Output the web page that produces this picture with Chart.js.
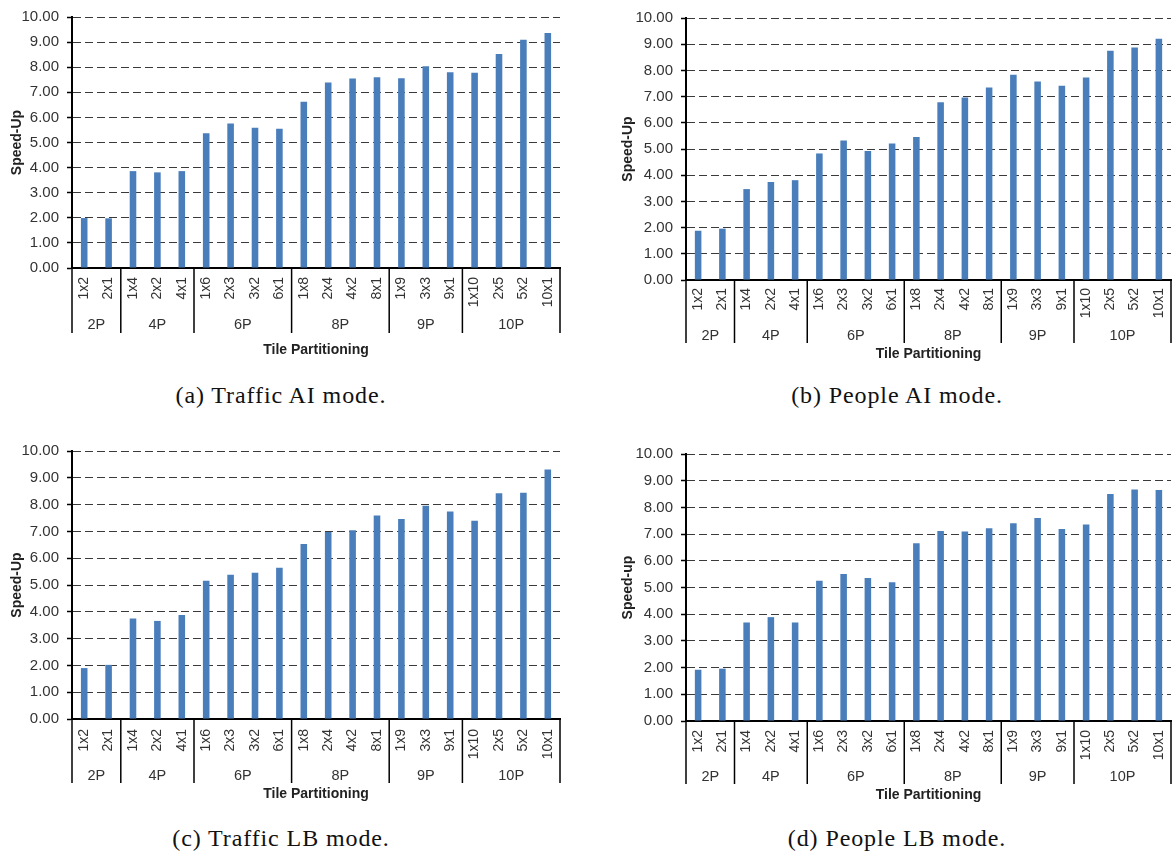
<!DOCTYPE html>
<html>
<head>
<meta charset="utf-8">
<title>Speed-up by tile partitioning</title>
<script src="https://cdn.jsdelivr.net/npm/chart.js@4.4.1/dist/chart.umd.min.js"></script>
<style>
  html, body { margin: 0; padding: 0; background: #fff; overflow: hidden; }
  #page { position: relative; width: 1173px; height: 852px; overflow: hidden; }
  .panel { position: absolute; }
  .caption {
    position: absolute;
    font-family: "Liberation Serif", "Times New Roman", serif;
    font-size: 24px;
    line-height: 26px;
    letter-spacing: 0.9px;
    color: #111;
    white-space: nowrap;
    transform: translateX(-50%);
  }
</style>
</head>
<body>
<div id="page">
  <div class="panel" style="left:0px;top:0px;"><canvas id="trafficAIChart" width="600" height="370"></canvas></div>
  <div class="panel" style="left:586px;top:0px;"><canvas id="peopleAIChart" width="600" height="370"></canvas></div>
  <div class="panel" style="left:0px;top:430px;"><canvas id="trafficLBChart" width="600" height="380"></canvas></div>
  <div class="panel" style="left:586px;top:430px;"><canvas id="peopleLBChart" width="600" height="380"></canvas></div>

  <div class="caption" style="left:281px;top:382px;">(a) Traffic AI mode.</div>
  <div class="caption" style="left:897px;top:382px;">(b) People AI mode.</div>
  <div class="caption" style="left:281px;top:825px;">(c) Traffic LB mode.</div>
  <div class="caption" style="left:897px;top:825px;">(d) People LB mode.</div>
</div>

<script>
// Tile partitionings (columns x rows), grouped by processor count
const partitions = ['1x2', '2x1',
                    '1x4', '2x2', '4x1',
                    '1x6', '2x3', '3x2', '6x1',
                    '1x8', '2x4', '4x2', '8x1',
                    '1x9', '3x3', '9x1',
                    '1x10', '2x5', '5x2', '10x1'];
const groupNames = ['2P', '4P', '6P', '8P', '9P', '10P'];
const groupSizes = [2, 3, 4, 4, 3, 4];

// Measured speed-up per partitioning
const trafficAI = [1.99, 1.98, 3.86, 3.81, 3.86, 5.37, 5.76, 5.59, 5.55, 6.62, 7.39, 7.55, 7.60, 7.56, 8.04, 7.80, 7.78, 8.53, 9.09, 9.36];
const peopleAI  = [1.88, 1.96, 3.47, 3.74, 3.81, 4.83, 5.32, 4.92, 5.21, 5.46, 6.78, 6.97, 7.35, 7.83, 7.58, 7.41, 7.73, 8.75, 8.87, 9.21];
const trafficLB = [1.90, 2.02, 3.75, 3.66, 3.88, 5.16, 5.38, 5.46, 5.64, 6.53, 6.98, 7.04, 7.59, 7.46, 7.96, 7.74, 7.40, 8.42, 8.44, 9.31];
const peopleLB  = [1.92, 1.96, 3.69, 3.89, 3.69, 5.25, 5.51, 5.36, 5.20, 6.66, 7.12, 7.10, 7.22, 7.41, 7.60, 7.19, 7.36, 8.50, 8.67, 8.65];

const yTitles = ['Speed-Up', 'Speed-Up', 'Speed-Up', 'Speed-up'];
const xTitle = 'Tile Partitioning';

const FONT = '"Liberation Sans", Arial, sans-serif';
const TEXT = '#333';

// Draws the processor-count row under the tick labels, the separators, and both axis titles
const partitionAxis = {
  id: 'partitionAxis',
  afterDraw(chart, args, opts) {
    const { ctx, chartArea: area, scales: { x } } = chart;
    const base = area.bottom;
    const half = (x.getPixelForValue(1) - x.getPixelForValue(0)) / 2;
    ctx.save();
    ctx.fillStyle = TEXT;
    ctx.font = '14.5px ' + FONT;
    ctx.textAlign = 'center';
    ctx.textBaseline = 'middle';
    const edges = [];
    let start = 0;
    groupSizes.forEach((n, g) => {
      const left = x.getPixelForValue(start) - half;
      const right = x.getPixelForValue(start + n - 1) + half;
      ctx.fillText(groupNames[g], (left + right) / 2, base + opts.groupY);
      edges.push(left);
      if (g === groupSizes.length - 1) edges.push(right);
      start += n;
    });
    ctx.strokeStyle = '#000';
    ctx.lineWidth = 1.5;
    edges.forEach(e => {
      ctx.beginPath();
      ctx.moveTo(e, base);
      ctx.lineTo(e, base + opts.sepLen);
      ctx.stroke();
    });
    ctx.font = 'bold 14px ' + FONT;
    ctx.fillStyle = '#222';
    ctx.fillText(xTitle, (area.left + area.right) / 2, base + opts.titleY);
    ctx.translate(opts.yTitleX, (area.top + area.bottom) / 2);
    ctx.rotate(-Math.PI / 2);
    ctx.fillText(opts.yTitle, 0, 0);
    ctx.restore();
  }
};

function speedupChart(id, values, yTitle, L) {
  const canvas = document.getElementById(id);
  const W = canvas.width, H = canvas.height;
  return new Chart(canvas, {
    type: 'bar',
    data: {
      labels: partitions,
      datasets: [{
        data: values,
        backgroundColor: '#4a7ebb',
        borderWidth: 0,
        barPercentage: 0.27,
        categoryPercentage: 1.0
      }]
    },
    options: {
      responsive: false,
      animation: false,
      devicePixelRatio: 1,
      layout: { padding: { top: L.top, right: W - L.right, left: 0, bottom: 0 } },
      plugins: {
        legend: { display: false },
        tooltip: { enabled: false },
        partitionAxis: { groupY: L.groupY, sepLen: L.sepLen, titleY: L.titleY, yTitleX: L.yTitleX, yTitle: yTitle }
      },
      scales: {
        x: {
          offset: true,
          grid: { display: false, drawTicks: false },
          border: { display: true, color: '#000', width: 2 },
          ticks: {
            autoSkip: false,
            minRotation: 90,
            maxRotation: 90,
            padding: L.catPad,
            color: TEXT,
            font: { family: FONT, size: 14 }
          },
          afterFit(scale) { scale.height = H - L.bottom; }
        },
        y: {
          min: 0,
          max: 10,
          ticks: {
            stepSize: 1,
            padding: 8,
            color: TEXT,
            font: { family: FONT, size: 15 },
            callback: v => Number(v).toFixed(2)
          },
          grid: {
            color: '#3a3a3a',
            lineWidth: 1,
            drawTicks: true,
            tickLength: 5,
            tickColor: '#000',
            tickWidth: 1.5,
            tickBorderDash: []
          },
          border: { display: true, color: '#000', width: 2, dash: [8, 4] },
          afterFit(scale) { scale.width = L.left; }
        }
      }
    },
    plugins: [partitionAxis]
  });
}

speedupChart('trafficAIChart', trafficAI, yTitles[0],
  { left: 72, right: 560, top: 12, bottom: 268, catPad: 9, groupY: 57, sepLen: 65, titleY: 82, yTitleX: 17 });
speedupChart('peopleAIChart', peopleAI, yTitles[1],
  { left: 100, right: 585, top: 18, bottom: 280, catPad: 8, groupY: 56, sepLen: 63, titleY: 74, yTitleX: 42 });
speedupChart('trafficLBChart', trafficLB, yTitles[2],
  { left: 72, right: 560, top: 21, bottom: 289, catPad: 10, groupY: 57, sepLen: 64, titleY: 75, yTitleX: 17 });
speedupChart('peopleLBChart', peopleLB, yTitles[3],
  { left: 100, right: 585, top: 24, bottom: 291, catPad: 9, groupY: 56, sepLen: 63, titleY: 74, yTitleX: 42 });
</script>
</body>
</html>
